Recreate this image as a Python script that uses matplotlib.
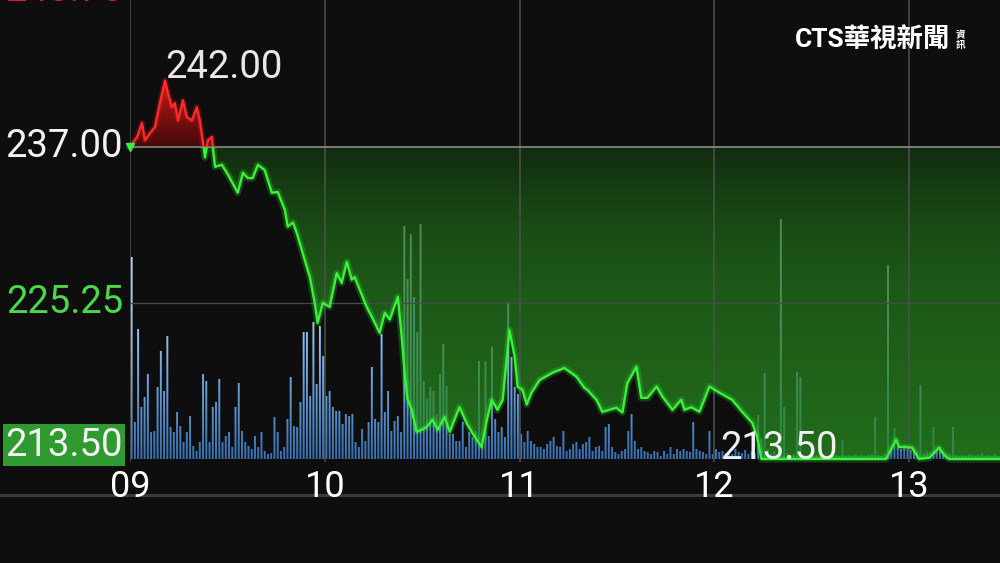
import numpy as np
import matplotlib
matplotlib.use("Agg")
import matplotlib.pyplot as plt
from matplotlib.path import Path
from matplotlib.lines import Line2D
from matplotlib.patches import Rectangle
from matplotlib.colors import LinearSegmentedColormap
from matplotlib.transforms import blended_transform_factory

plt.rcParams['font.family'] = ['Roboto', 'Noto Sans CJK TC', 'DejaVu Sans']

# ---------------- data ----------------
# minutes after 09:00 and price at that moment
price_minutes = [0, 2.2, 3.7, 4.6, 6.2, 7.7, 9.2, 10.8, 11.7, 12.9,
                 13.8, 14.8, 16.3, 17.5, 19.1, 20.6, 21.5, 22.5, 23.1, 24.0,
                 25.2, 25.5, 26.2, 28.3, 30.2, 33.2, 34.8, 36.3, 37.8, 39.4,
                 41.5, 43.7, 45.5, 47.7, 48.6, 50.2, 51.4, 52.3, 53.8, 55.4,
                 56.9, 57.8, 59.4, 61.5, 63.7, 65.2, 66.8, 68.3, 69.2, 72.9,
                 74.5, 76.0, 76.9, 78.5, 80.0, 82.5, 83.7, 84.6, 85.5, 86.8,
                 88.3, 89.8, 91.4, 93.2, 94.8, 96.9, 98.5, 101.5, 103.7, 105.5,
                 108.3, 109.8, 111.4, 113.2, 114.8, 116.9, 118.5, 119.4, 120.9, 122.2,
                 123.7, 126.2, 130.2, 133.8, 137.5, 140.0, 140.9, 143.7, 145.5, 149.8,
                 151.7, 153.2, 156.0, 157.5, 159.4, 162.2, 164.0, 167.1, 169.8, 170.8,
                 172.9, 175.4, 178.5, 181.5, 185.5, 188.6, 191.7, 193.2, 194.5, 232.9,
                 236.0, 236.9, 239.1, 240.9, 243.1, 246.2, 247.1, 249.2, 250.8, 252.3,
                 270]
prices = [237.0, 237.75, 238.8, 237.5, 238.05, 238.5, 240.3, 242.0, 241.05, 240.0,
          240.3, 239.0, 240.5, 239.25, 239.0, 240.0, 239.0, 237.3, 236.2, 237.5,
          237.75, 237.0, 235.5, 235.65, 234.9, 233.55, 235.05, 234.65, 234.65, 235.65,
          235.25, 233.55, 233.6, 232.25, 231.0, 231.3, 230.5, 229.75, 228.5, 227.2,
          225.25, 223.75, 225.25, 224.95, 227.5, 226.75, 228.35, 227.0, 227.2, 224.95,
          224.2, 223.45, 223.0, 224.5, 224.0, 225.7, 222.7, 220.0, 218.0, 217.2,
          215.55, 215.7, 215.9, 216.45, 215.7, 216.65, 215.55, 217.4, 216.2, 215.45,
          214.4, 216.3, 217.95, 217.2, 217.95, 223.2, 221.2, 218.95, 218.7, 217.6,
          218.5, 219.45, 220.0, 220.35, 219.7, 218.85, 218.7, 217.95, 217.05, 217.35,
          217.0, 219.2, 220.45, 218.1, 218.1, 218.95, 218.2, 217.2, 217.95, 217.2,
          217.4, 217.05, 218.95, 218.5, 217.95, 217.05, 216.2, 215.15, 213.5, 213.5,
          214.95, 214.4, 214.4, 214.35, 213.5, 213.6, 213.8, 214.35, 213.8, 213.5,
          213.5]

# per-minute volume (lots)
vol_0900_1023 = [202, 37, 130, 52, 62, 85, 27, 28, 72, 108,
                 68, 123, 32, 27, 47, 33, 17, 27, 43, 13,
                 8, 17, 85, 78, 17, 52, 57, 80, 17, 23,
                 27, 12, 52, 76, 28, 17, 13, 10, 23, 12,
                 27, 8, 5, 6, 42, 27, 8, 12, 40, 82,
                 33, 32, 57, 127, 127, 63, 137, 75, 133, 103,
                 63, 68, 52, 48, 48, 35, 45, 43, 45, 17,
                 12, 30, 18, 37, 92, 40, 37, 125, 47, 68,
                 28, 38, 43, 27]
vol_1024_1202 = [233, 180, 225, 162, 127, 235, 78, 60, 72, 68,
                 45, 85, 115, 73, 25, 25, 18, 18, 37, 12,
                 27, 22, 28, 98, 12, 98, 23, 112, 40, 27,
                 32, 22, 157, 102, 72, 65, 25, 17, 28, 18,
                 15, 12, 12, 10, 15, 18, 22, 13, 12, 28,
                 8, 10, 15, 17, 10, 15, 17, 22, 8, 12,
                 13, 8, 32, 35, 12, 7, 5, 8, 10, 28,
                 45, 18, 10, 12, 8, 7, 5, 8, 7, 3,
                 8, 5, 12, 5, 10, 8, 10, 8, 7, 37,
                 10, 8, 7, 5, 28, 5, 10, 7, 8]
vol_1203_1329 = [6, 8, 5, 10, 7, 6, 9, 5, 8, 6,
                 44, 20, 86, 10, 6, 8, 5, 251, 52, 6,
                 4, 5, 87, 82, 4, 3, 5, 3, 4, 3,
                 5, 3, 4, 3, 4, 3, 19, 3, 4, 3,
                 5, 3, 4, 3, 4, 5, 42, 4, 3, 5,
                 194, 12, 31, 15, 10, 14, 12, 9, 11, 8,
                 74, 6, 8, 7, 32, 9, 12, 7, 6, 5,
                 32, 4, 3, 4, 3, 5, 4, 3, 4, 6,
                 3, 4, 3, 5, 3, 4, 3]
volumes = vol_0900_1023 + vol_1024_1202 + vol_1203_1329
vol_minutes = list(range(len(volumes)))

prev_close = 237.00
limit_down = 213.50
mid_level = 225.25
top_level = 248.75
hour_ticks = [0, 60, 120, 180, 240]
hour_labels = ['09', '10', '11', '12', '13']

# ---------------- figure ----------------
W, H = 1000, 563
BG = '#0e0e0e'
fig = plt.figure(figsize=(W / 100, H / 100), dpi=100, facecolor=BG)

PX_PER_PRICE = 13.28
ax_bottom_px = 462
ax_h_px = 462
pos = [0.13, (H - ax_bottom_px) / H, 0.87, ax_h_px / H]
axv = fig.add_axes(pos, zorder=1)
ax = fig.add_axes(pos, zorder=2)
axv.set_facecolor(BG)
ax.patch.set_alpha(0)
for a in (axv, ax):
    for s in a.spines.values():
        s.set_visible(False)
axv.set_xticks([]); axv.set_yticks([])

XMAX = 268
ylo = limit_down - 3 / PX_PER_PRICE
yhi = ylo + ax_h_px / PX_PER_PRICE

# ---- volume bars with vertical blue gradient ----
vx = np.array(vol_minutes) + 0.5
bars = axv.bar(vx, volumes, width=0.6, color='none', edgecolor='none')
bpaths = [b.get_path().transformed(b.get_patch_transform()) for b in bars]
bclip = Path.make_compound_path(*bpaths)
vcmap = LinearSegmentedColormap.from_list('v', ['#3670b2', '#8dbdee', '#d4e8fc'])
grad = np.linspace(0, 1, 256).reshape(-1, 1)
imv = axv.imshow(grad, extent=[0, 270, 0, 240], origin='lower', cmap=vcmap,
                 aspect='auto', zorder=1, interpolation='bilinear')
imv.set_clip_path(bclip, axv.transData)
axv.set_xlim(0, XMAX)
axv.set_ylim(-3, ax_h_px - 3)

# ---- price fills with gradients ----
t = np.array(price_minutes)
p = np.array(prices)
fg = ax.fill_between(t, p, prev_close, where=p <= prev_close, interpolate=True,
                     facecolor='none', edgecolor='none')
fr = ax.fill_between(t, p, prev_close, where=p >= prev_close, interpolate=True,
                     facecolor='none', edgecolor='none')
gclip = Path.make_compound_path(*fg.get_paths())
rclip = Path.make_compound_path(*fr.get_paths())

n = 256
s = np.linspace(0, 1, n)  # 0 bottom -> 1 top
g_bot = np.array([30, 106, 24]) / 255
g_mid = np.array([26, 86, 20]) / 255
g_top = np.array([14, 40, 12]) / 255
alpha_g = 0.72
cols = np.empty((n, 1, 4))
for i, v in enumerate(s):
    if v < 0.5:
        c = g_bot + (g_mid - g_bot) * (v / 0.5)
    else:
        c = g_mid + (g_top - g_mid) * ((v - 0.5) / 0.5) ** 1.6
    cols[i, 0, :3] = np.clip(c / alpha_g, 0, 1)
    cols[i, 0, 3] = alpha_g
img = ax.imshow(cols, extent=[0, 270, ylo, prev_close], origin='lower',
                aspect='auto', zorder=2, interpolation='bilinear')
img.set_clip_path(gclip, ax.transData)

r_bot = np.array([70, 8, 8]) / 255
r_top = np.array([215, 30, 30]) / 255
rcols = np.empty((n, 1, 4))
for i, v in enumerate(s):
    rcols[i, 0, :3] = r_bot + (r_top - r_bot) * v
    rcols[i, 0, 3] = 0.95
imr = ax.imshow(rcols, extent=[0, 270, prev_close, max(prices) + 0.3], origin='lower',
                aspect='auto', zorder=2, interpolation='bilinear')
imr.set_clip_path(rclip, ax.transData)

# ---- grid ----
for xt in hour_ticks:
    ax.axvline(xt, color='#505050', lw=1.1, zorder=3)
ax.axhline(prev_close, color='#8a8a8a', lw=1.2, zorder=3)
ax.axhline(mid_level, color='#4a4a4a', lw=0.9, zorder=3)

# ---- price line (red above previous close, green below) ----
up_rect = Rectangle((-10, prev_close), 300, 100, transform=ax.transData)
dn_rect = Rectangle((-10, prev_close - 100), 300, 100, transform=ax.transData)
gl1, = ax.plot(t, p, color='#2cff2c', lw=5, alpha=0.22, zorder=4, solid_joinstyle='round')
gl2, = ax.plot(t, p, color='#3cf03c', lw=1.7, zorder=5, solid_joinstyle='round')
rl1, = ax.plot(t, p, color='#ff2020', lw=4.5, alpha=0.2, zorder=4)
rl2, = ax.plot(t, p, color='#ff2a2a', lw=1.7, zorder=5)
for l in (gl1, gl2):
    l.set_clip_path(dn_rect)
for l in (rl1, rl2):
    l.set_clip_path(up_rect)
ax.plot([0], [prev_close], marker='v', color='#3cf03c', ms=6, clip_on=False, zorder=6)

ax.set_xlim(0, XMAX)
ax.set_ylim(ylo, yhi)
ax.set_yticks([])
ax.set_xticks(hour_ticks, hour_labels)
ax.tick_params(axis='x', length=0, pad=5, labelcolor='white', labelsize=26)

# ---- price axis labels ----
FS = 27.5
trans = blended_transform_factory(fig.transFigure, ax.transData)
LX = 123 / W
ax.text(LX, top_level, f'{top_level:.2f}', transform=trans, ha='right', va='center',
        color='#e02020', fontsize=FS, clip_on=False)
ax.text(LX, prev_close, f'{prev_close:.2f}', transform=trans, ha='right', va='center',
        color='#f2f2f2', fontsize=FS, clip_on=False)
ax.text(LX, mid_level, f'{mid_level:.2f}', transform=trans, ha='right', va='center',
        color='#4cd84c', fontsize=FS, clip_on=False)
ax.annotate(f'{limit_down:.2f}', xy=(LX, limit_down), xycoords=trans,
            xytext=(0, 10), textcoords='offset points', ha='right', va='center',
            color='#f2f2f2', fontsize=FS, annotation_clip=False,
            bbox=dict(boxstyle='square,pad=0.06', fc='#2f9a2f', ec='none'))

# ---- high / low annotations ----
imax = int(np.argmax(p))
ax.annotate(f'{p[imax]:.2f}', xy=(t[imax], p[imax]), xytext=(0, 1.5),
            textcoords='offset points', ha='left', va='baseline',
            color='#e8e8e8', fontsize=FS, zorder=7)
imin = int(np.argmin(p))
ax.annotate(f'{p[imin]:.2f}', xy=(t[imin], p[imin]), xytext=(13, 0),
            textcoords='offset points', ha='center', va='baseline',
            color='#f0f0f0', fontsize=FS, zorder=7)

# ---- separator & logo ----
fig.add_artist(Line2D([0, 1], [(H - 495) / H] * 2, color='#3a3a3a', lw=2.2,
                      transform=fig.transFigure))
fig.text(795 / W, 1 - 40 / H, 'CTS華視新聞', color='white', fontsize=19,
         fontweight='bold', ha='left', va='center',
         family=['Roboto', 'Noto Sans CJK TC', 'DejaVu Sans'])
fig.text(956 / W, 1 - 40 / H, '資\n訊', color='white', fontsize=7,
         fontweight='bold', ha='left', va='center', linespacing=1.0,
         family=['Noto Sans CJK TC', 'DejaVu Sans'])

fig.savefig('out.png', dpi=100, facecolor=BG)
